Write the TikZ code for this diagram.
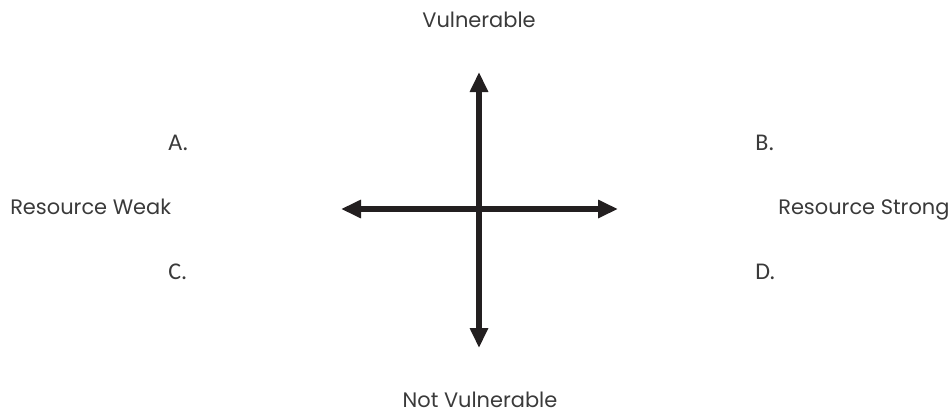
\documentclass[tikz,border=0pt]{standalone}
\usepackage{fontspec}
\setmainfont{Poppins}
\newfontfamily\letterfont{Carlito}
\usetikzlibrary{arrows.meta}
\definecolor{axisgray}{HTML}{231F20}
\definecolor{textgray}{HTML}{3A3A3A}

\begin{document}
\begin{tikzpicture}[x=0.75pt, y=-0.75pt,
    axis/.style={{Triangle[length=15pt,width=13pt]}-{Triangle[length=15pt,width=13pt]}, line width=4.5pt, axisgray},
    label/.style={text=textgray, font=\fontsize{15.7}{18}\selectfont, inner sep=0pt},
    quad/.style={text=textgray, font=\letterfont\fontsize{18}{20}\selectfont, inner sep=0pt, anchor=base west}]
    \useasboundingbox (0,0) rectangle (948,414);

    % Axis ends
    \coordinate (top) at (479, 72);
    \coordinate (bottom) at (479, 348);
    \coordinate (left) at (341, 209);
    \coordinate (right) at (618, 209);

    \draw[axis] (bottom) -- (top);
    \draw[axis] (left) -- (right);

    % Axis labels
    \node[label, anchor=base] (vuln) at (479, 27) {Vulnerable};
    \node[label, anchor=base] (notvuln) at (480, 407) {Not Vulnerable};
    \node[label, anchor=base west] (weak) at (10, 214) {Resource Weak};
    \node[label, anchor=base west] (strong) at (778, 214) {Resource Strong};

    % Quadrants
    \node[quad] (qa) at (168, 150) {A.};
    \node[quad] (qb) at (755, 150) {B.};
    \node[quad] (qc) at (168, 279) {C.};
    \node[quad] (qd) at (755, 279) {D.};
\end{tikzpicture}
\end{document}
